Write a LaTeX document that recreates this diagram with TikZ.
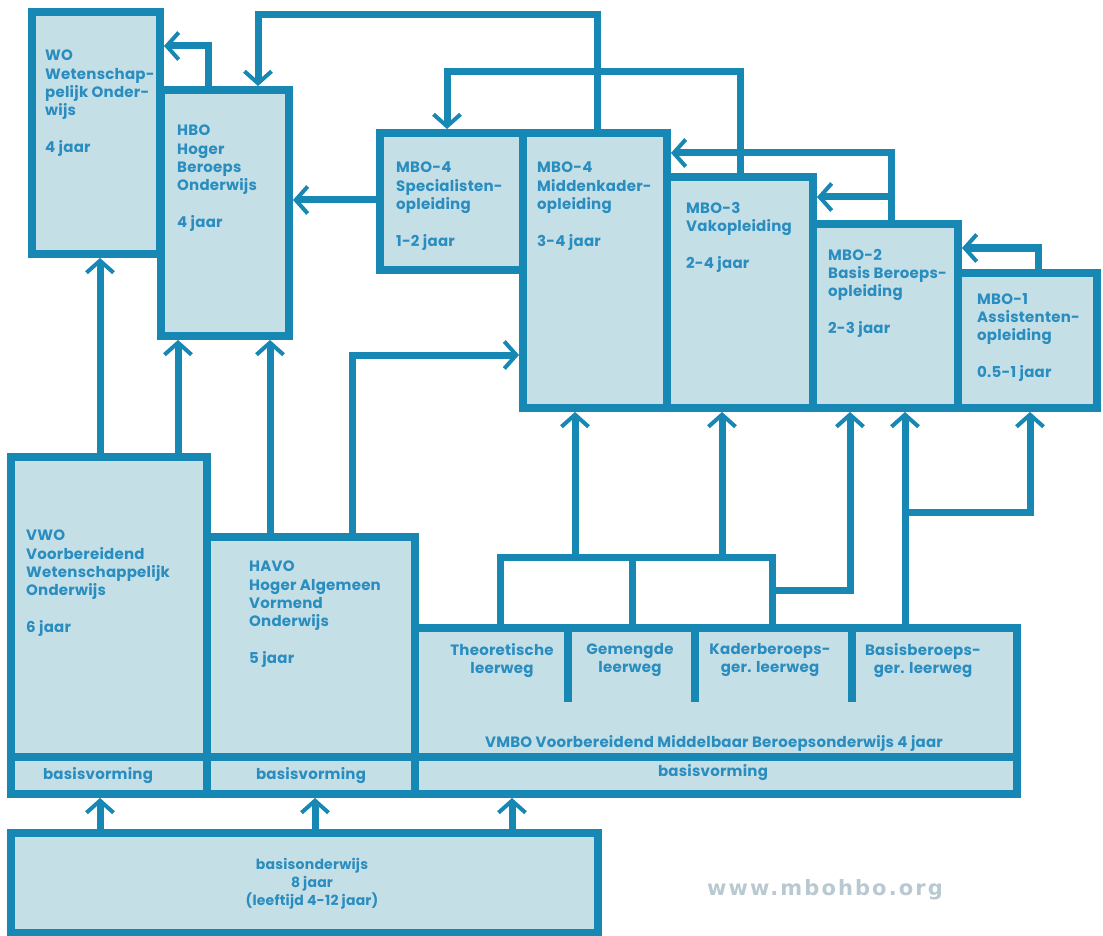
\documentclass[tikz,border=0pt]{standalone}
\usepackage{fontspec}
\setmainfont{Poppins}[LetterSpace=1.5]
\newfontfamily\wmfont{DejaVu Sans}[LetterSpace=10]
\usetikzlibrary{arrows.meta}
\definecolor{lineblue}{HTML}{1787B4}
\definecolor{fillblue}{HTML}{C5DFE7}
\definecolor{textblue}{HTML}{2A8DBF}
\definecolor{markgray}{HTML}{B9C9D1}
\begin{document}
\begin{tikzpicture}[x=1pt,y=-1pt,
  box/.style={draw=lineblue, fill=fillblue, line width=8pt, rectangle, inner sep=0pt, outer sep=0pt, anchor=north west},
  conn/.style={draw=lineblue, line width=7pt},
  arr/.style={conn, shorten >=4pt, -{Straight Barb[length=12pt,width=27pt,line width=4pt]}},
  lbl/.style={text=textblue, font=\fontsize{15}{18.3}\selectfont\bfseries, align=left, anchor=north west, inner sep=0pt},
  clbl/.style={text=textblue, font=\fontsize{15}{18.3}\selectfont\bfseries, align=center, anchor=north, inner sep=0pt}]
\useasboundingbox (0,0) rectangle (1103,936);
% boxes
\node[box, minimum width=128pt, minimum height=242pt] (wo) at (32,12) {};
\node[box, minimum width=128pt, minimum height=246pt] (hbo) at (161,90) {};
\node[box, minimum width=143pt, minimum height=137pt] (spec) at (380,133) {};
\node[box, minimum width=144pt, minimum height=275pt] (mid) at (523,133) {};
\node[box, minimum width=146pt, minimum height=231pt] (mbo3) at (667,177) {};
\node[box, minimum width=145pt, minimum height=184pt] (mbo2) at (813,224) {};
\node[box, minimum width=139pt, minimum height=135pt] (mbo1) at (958,273) {};
\node[box, minimum width=196pt, minimum height=337pt] (vwo) at (11,457) {};
\node[box, minimum width=208pt, minimum height=257pt] (havo) at (207,537) {};
\node[box, minimum width=602pt, minimum height=166pt] (vmbo) at (415,628) {};
\node[box, minimum width=587pt, minimum height=100pt] (bo) at (11,833) {};
% dividers
\draw[conn, line width=8pt] (vwo.west |- 0,757) -- (vmbo.east |- 0,757);
\draw[conn, line width=8pt] (568,0 |- vmbo.north) -- (568,702);
\draw[conn, line width=8pt] (695,0 |- vmbo.north) -- (695,702);
\draw[conn, line width=8pt] (852,0 |- vmbo.north) -- (852,702);
% connectors
\draw[arr] (100,0 |- vwo.north) -- (100,0 |- wo.south);
\draw[arr] (178,0 |- vwo.north) -- (178,0 |- hbo.south);
\draw[arr] (270,0 |- havo.north) -- (270,0 |- hbo.south);
\draw[arr] (352,0 |- havo.north) -- (352,355) -- (mid.west |- 0,355);
\draw[arr] (spec.west |- 0,200) -- (hbo.east |- 0,200);
\draw[arr] (208,0 |- hbo.north) -- (208,46) -- (wo.east |- 0,46);
\draw[arr] (597,0 |- mid.north) -- (597,15) -- (258,15) -- (258,0 |- hbo.north);
\draw[arr] (740,0 |- mbo3.north) -- (740,72) -- (447,72) -- (447,0 |- spec.north);
\draw[arr] (891,0 |- mbo2.north) -- (891,153) -- (mid.east |- 0,153);
\draw[arr] (891,197) -- (mbo3.east |- 0,197);
\draw[arr] (1038,0 |- mbo1.north) -- (1038,248) -- (mbo2.east |- 0,248);
\draw[conn] (500,0 |- vmbo.north) -- (500,557) -- (772,557) -- (772,0 |- vmbo.north);
\draw[conn] (632,557) -- (632,0 |- vmbo.north);
\draw[arr] (575,557) -- (575,0 |- mid.south);
\draw[arr] (722,557) -- (722,0 |- mbo3.south);
\draw[arr] (772,590) -- (850,590) -- (850,0 |- mbo2.south);
\draw[arr] (905,0 |- vmbo.north) -- (905,0 |- mbo2.south);
\draw[arr] (905,512) -- (1030,512) -- (1030,0 |- mbo1.south);
\draw[arr] (100,0 |- bo.north) -- (100,0 |- vwo.south);
\draw[arr] (315,0 |- bo.north) -- (315,0 |- havo.south);
\draw[arr] (512,0 |- bo.north) -- (512,0 |- vmbo.south);
% texts
\node[lbl] (wo-t) at (45,50) {WO\\Wetenschap-\\pelijk Onder-\\wijs\\[18.3pt]4 jaar};
\node[lbl] (hbo-t) at (177,125) {HBO\\Hoger\\Beroeps\\Onderwijs\\[18.3pt]4 jaar};
\node[lbl] (spec-t) at (396,162) {MBO-4\\Specialisten-\\opleiding\\[18.3pt]1-2 jaar};
\node[lbl] (mid-t) at (537,162) {MBO-4\\Middenkader-\\opleiding\\[18.3pt]3-4 jaar};
\node[lbl] (mbo3-t) at (686,202) {MBO-3\\Vakopleiding\\[18.3pt]2-4 jaar};
\node[lbl] (mbo2-t) at (828,249) {MBO-2\\Basis Beroeps-\\opleiding\\[18.3pt]2-3 jaar};
\node[lbl] (mbo1-t) at (977,293) {MBO-1\\Assistenten-\\opleiding\\[18.3pt]0.5-1 jaar};
\node[lbl] (vwo-t) at (26,530) {VWO\\Voorbereidend\\Wetenschappelijk\\Onderwijs\\[18.3pt]6 jaar};
\node[lbl] (havo-t) at (249,561) {HAVO\\Hoger Algemeen\\Vormend\\Onderwijs\\[18.3pt]5 jaar};
\node[clbl] (lw1) at (502,643) {Theoretische\\leerweg};
\node[clbl] (lw2) at (630,643) {Gemengde\\leerweg};
\node[clbl] (lw3) at (770,643) {Kaderberoeps-\\ger. leerweg};
\node[clbl] (lw4) at (923,643) {Basisberoeps-\\ger. leerweg};
\node[clbl, anchor=center] (vmbo-t) at (714,743) {VMBO Voorbereidend Middelbaar Beroepsonderwijs 4 jaar};
\node[clbl, anchor=center] (bv1) at (98,776) {basisvorming};
\node[clbl, anchor=center] (bv2) at (311,776) {basisvorming};
\node[clbl, anchor=center] (bv3) at (713,773) {basisvorming};
\node[clbl, anchor=center, font=\fontsize{14}{18}\selectfont\bfseries] (bo-t) at (312,884) {basisonderwijs\\8 jaar\\(leeftijd 4-12 jaar)};
\node[text=markgray, font=\wmfont\fontsize{21}{24}\selectfont\bfseries, inner sep=0pt] (www) at (825,890) {www.mbohbo.org};
\end{tikzpicture}
\end{document}
